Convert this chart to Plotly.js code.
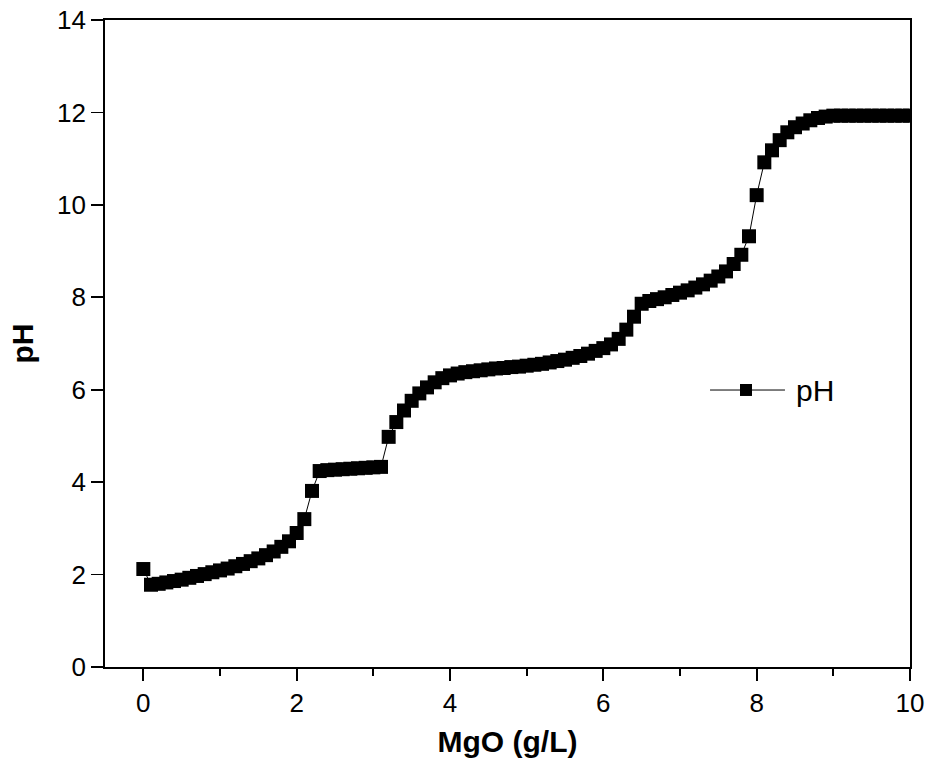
<!DOCTYPE html>
<html>
<head>
<meta charset="utf-8">
<script src="https://cdn.plot.ly/plotly-3.0.1.min.js"></script>
<style>html,body{margin:0;padding:0;background:#fff;}#chart{width:927px;height:765px;}</style>
</head>
<body>
<div id="chart"></div>
<script>
const mgo = [0.0,0.1,0.2,0.3,0.4,0.5,0.6,0.7,0.8,0.9,
  1.0,1.1,1.2,1.3,1.4,1.5,1.6,1.7,1.8,1.9,
  2.0,2.1,2.2,2.3,2.4,2.5,2.6,2.7,2.8,2.9,
  3.0,3.1,3.2,3.3,3.4,3.5,3.6,3.7,3.8,3.9,
  4.0,4.1,4.2,4.3,4.4,4.5,4.6,4.7,4.8,4.9,
  5.0,5.1,5.2,5.3,5.4,5.5,5.6,5.7,5.8,5.9,
  6.0,6.1,6.2,6.3,6.4,6.5,6.6,6.7,6.8,6.9,
  7.0,7.1,7.2,7.3,7.4,7.5,7.6,7.7,7.8,7.9,
  8.0,8.1,8.2,8.3,8.4,8.5,8.6,8.7,8.8,8.9,
  9.0,9.1,9.2,9.3,9.4,9.5,9.6,9.7,9.8,9.9,10.0];
const ph = [2.12,1.78,1.80,1.83,1.86,1.89,1.93,1.97,2.01,2.05,
  2.09,2.13,2.18,2.23,2.29,2.35,2.42,2.50,2.60,2.72,
  2.90,3.20,3.81,4.24,4.26,4.27,4.28,4.29,4.30,4.31,
  4.32,4.33,4.98,5.30,5.55,5.76,5.92,6.05,6.16,6.25,
  6.31,6.35,6.38,6.40,6.42,6.44,6.46,6.47,6.49,6.50,
  6.52,6.54,6.56,6.59,6.62,6.65,6.69,6.73,6.78,6.84,
  6.90,6.98,7.10,7.30,7.58,7.86,7.92,7.96,8.00,8.05,
  8.10,8.15,8.21,8.28,8.36,8.45,8.56,8.72,8.92,9.32,
  10.21,10.92,11.18,11.40,11.57,11.68,11.76,11.83,11.88,11.91,
  11.93,11.93,11.93,11.93,11.93,11.93,11.93,11.93,11.93,11.93,11.93];
const xTicks = [0,2,4,6,8,10];
const xMinor = [1,3,5,7,9];
const yTicks = [0,2,4,6,8,10,12,14];
const seriesName = 'pH';

const FONT = 'Liberation Sans, Arial, sans-serif';
const trace = {
  x: mgo, y: ph, type: 'scatter', mode: 'lines+markers', name: seriesName,
  line: {color: '#000', width: 1},
  marker: {symbol: 'square', size: 14, color: '#000'},
  showlegend: false
};
const axisFont = {family: FONT, size: 26, color: '#000'};
const layout = {
  width: 927, height: 765,
  margin: {l: 105, r: 17, t: 20, b: 98},
  paper_bgcolor: '#fff', plot_bgcolor: '#fff',
  showlegend: false,
  shapes: [
    {type: 'line', xref: 'paper', yref: 'paper', x0: 0.7516, x1: 0.8447, y0: 0.4281, y1: 0.4281,
     line: {color: '#000', width: 1}},
    {type: 'rect', xref: 'paper', yref: 'paper', x0: 0.7888, x1: 0.8037, y0: 0.4189, y1: 0.4374,
     fillcolor: '#000', line: {color: '#000', width: 0}}
  ],
  annotations: [
    {text: seriesName, xref: 'paper', yref: 'paper', x: 0.856, y: 0.4281, xanchor: 'left', yanchor: 'middle',
     showarrow: false, font: {family: FONT, size: 30, color: '#000'}}
  ],
  xaxis: {
    range: [-0.5, 10], tickvals: xTicks, ticktext: xTicks.map(String),
    showgrid: false, zeroline: false, showline: true, linecolor: '#000', linewidth: 1.8,
    mirror: true, ticks: 'outside', ticklen: 12, tickwidth: 1.8, tickcolor: '#000',
    tickfont: axisFont,
    minor: {tickvals: xMinor, ticks: 'outside', ticklen: 7, tickwidth: 1.8, tickcolor: '#000', showgrid: false},
    title: {text: '<b>MgO (g/L)</b>', font: {family: FONT, size: 30, color: '#000'}, standoff: 14}
  },
  yaxis: {
    range: [0, 14], tickvals: yTicks, ticktext: yTicks.map(String),
    showgrid: false, zeroline: false, showline: true, linecolor: '#000', linewidth: 1.8,
    mirror: true, ticks: 'outside', ticklen: 12, tickwidth: 1.8, tickcolor: '#000',
    tickfont: axisFont,
    title: {text: '<b>pH</b>', font: {family: FONT, size: 30, color: '#000'}, standoff: 14}
  }
};
Plotly.newPlot('chart', [trace], layout, {displayModeBar: false, staticPlot: true});
</script>
</body>
</html>
